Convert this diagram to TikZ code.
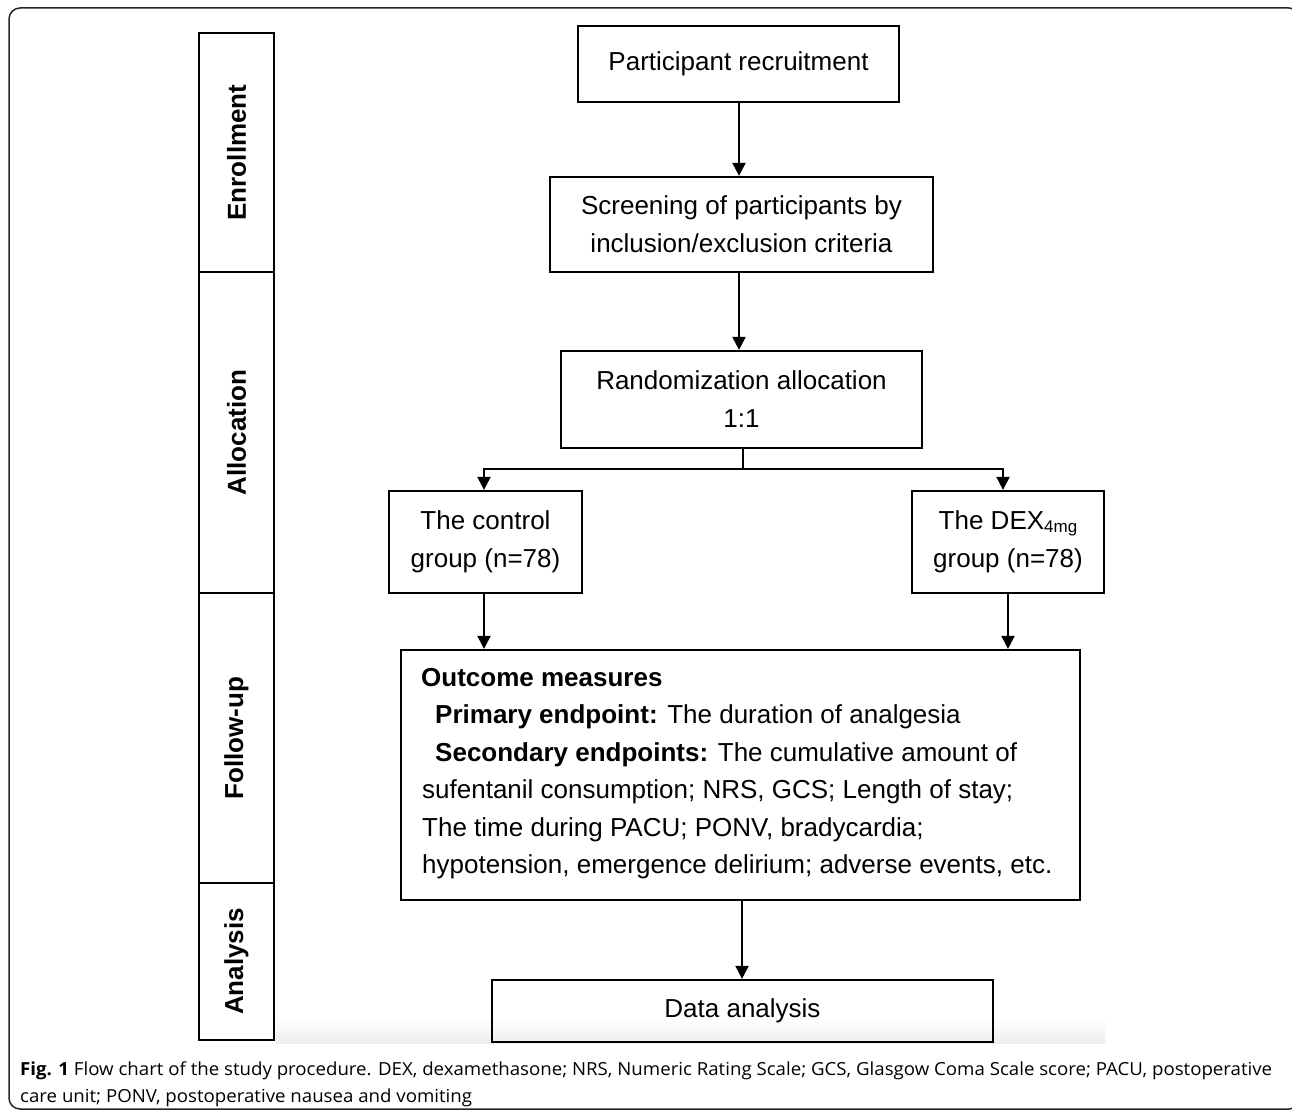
\documentclass[tikz,border=0pt]{standalone}
\usepackage{fontspec}
\setmainfont{Liberation Sans}
\newfontfamily\capfont{Open Sans}
\usetikzlibrary{arrows.meta,calc}
\newlength\capwidth
\newcommand\capone{\textbf{Fig. 1} Flow chart of the study procedure. DEX, dexamethasone; NRS, Numeric Rating Scale; GCS, Glasgow Coma Scale score; PACU, postoperative}
\begin{document}
\settowidth\capwidth{\capfont\fontsize{18}{22}\selectfont\capone}
\pgfmathsetmacro\capscale{1252/\capwidth}
\begin{tikzpicture}[x=1pt,y=-1pt,
  box/.style={draw, line width=2.2pt, inner sep=0pt, align=center, font=\fontsize{26}{38}\selectfont},
  phase/.style={draw, line width=2.2pt, inner sep=0pt, minimum width=75pt},
  lab/.style={rotate=90, inner sep=0pt, font=\bfseries\fontsize{26}{30}\selectfont},
  arr/.style={line width=2pt, -{Triangle[length=13pt,width=13pt]}},
  ln/.style={line width=2pt},
  txt/.style={anchor=base west, inner sep=0pt, font=\fontsize{26}{38}\selectfont},
  captxt/.style={anchor=base west, inner sep=0pt, font=\capfont\fontsize{18}{22}\selectfont}]
\useasboundingbox (0,0) rectangle (1292,1113);
\fill[white] (0,0) rectangle (1292,1113);
\draw[line width=1.5pt, rounded corners=11pt, black!85] (9,8) rectangle (1300,1109);
% faint shadow band
\shade[top color=white, bottom color=black!7] (276,1018) rectangle (1105,1043);
% phase column
\node[phase, minimum height=239pt] (enr) at (236.5,152.5) {};
\node[lab] (enrl) at (enr) {Enrollment};
\node[phase, minimum height=321pt] (all) at (236.5,432.5) {};
\node[lab] (alll) at (all) {Allocation};
\node[phase, minimum height=290pt] (fol) at (236.5,738) {};
\node[lab] (foll) at (fol) {Follow-up};
\node[phase, minimum height=157pt] (ana) at (236.5,961.5) {};
\node[lab] (anal) at (ana) {Analysis};
% main boxes
\node[box, minimum width=321pt, minimum height=76pt] (rec) at (738.5,64) {Participant recruitment};
\node[box, minimum width=383pt, minimum height=95pt] (scr) at (741.5,224.5) {Screening of participants by\\inclusion/exclusion criteria};
\node[box, minimum width=361pt, minimum height=97pt] (ran) at (741.5,399.5) {Randomization allocation\\1:1};
\node[box, minimum width=193pt, minimum height=102pt] (ctl) at (485.5,542) {The control\\group (n=78)};
\node[box, minimum width=192pt, minimum height=102pt] (dex) at (1008,542) {The DEX{\fontsize{17}{17}\selectfont\raisebox{-3pt}{4mg}}\\group (n=78)};
\node[box, minimum width=679pt, minimum height=250pt] (out) at (740.5,775) {};
\node[box, minimum width=501pt, minimum height=62pt] (dat) at (742.5,1011) {Data analysis};
% outcome text
\node[txt] (o1) at (421,686) {\textbf{Outcome measures}};
\node[txt] (o2) at (435,723) {\textbf{Primary endpoint:} The duration of analgesia};
\node[txt] (o3) at (435,761) {\textbf{Secondary endpoints:} The cumulative amount of};
\node[txt] (o4) at (422,798) {sufentanil consumption; NRS, GCS; Length of stay;};
\node[txt] (o5) at (422,836) {The time during PACU; PONV, bradycardia;};
\node[txt] (o6) at (422,873) {hypotension, emergence delirium; adverse events, etc.};
% connectors
\coordinate (br) at (743,469);
\draw[arr] ([xshift=0.5pt]rec.south) -- ([xshift=0.5pt]rec.south |- scr.north);
\draw[arr] ([xshift=-2.5pt]scr.south) -- ([xshift=-2.5pt]scr.south |- ran.north);
\draw[ln] (br |- ran.south) -- (br);
\draw[arr] (br) -| ([xshift=-1.5pt]ctl.north);
\draw[arr] (br) -| ([xshift=-5pt]dex.north);
\draw[arr] ([xshift=-1.5pt]ctl.south) -- ([xshift=-1.5pt]ctl.south |- out.north);
\draw[arr] (dex.south) -- (dex.south |- out.north);
\draw[arr] ([xshift=1.5pt]out.south) -- ([xshift=1.5pt]out.south |- dat.north);
% caption
\node[captxt] (c1) at (20,1075) {\scalebox{\capscale}[1]{\capone}};
\node[captxt] (c2) at (20,1102) {\scalebox{\capscale}[1]{care unit; PONV, postoperative nausea and vomiting}};
\end{tikzpicture}
\end{document}
